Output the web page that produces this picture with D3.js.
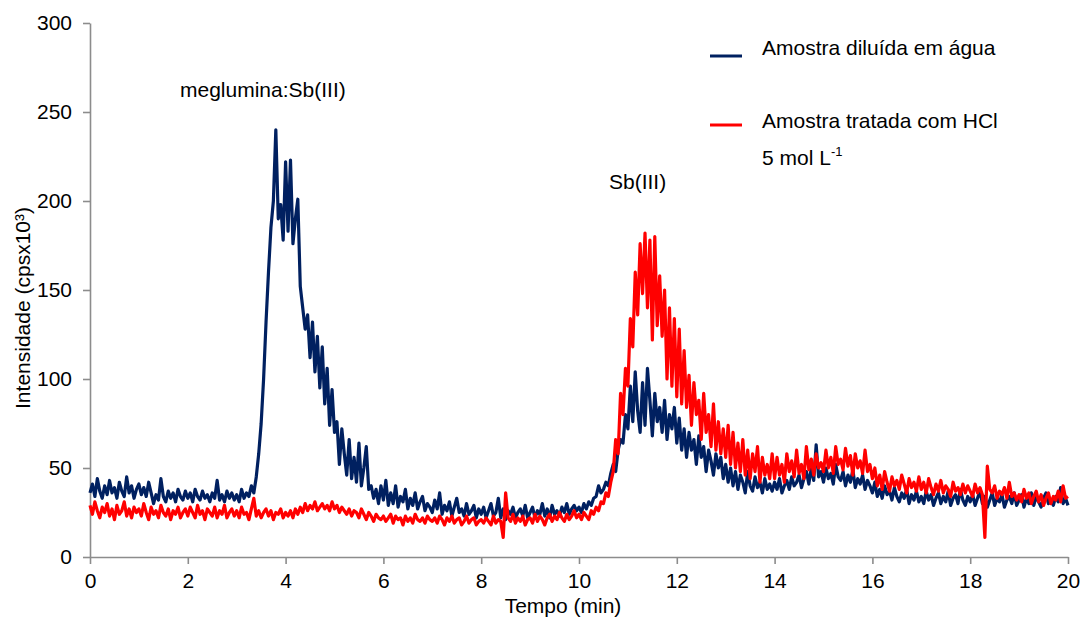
<!DOCTYPE html>
<html><head><meta charset="utf-8">
<script src="https://cdn.jsdelivr.net/npm/d3@7"></script>
<style>
body{margin:0;background:#fff}
text{font-family:"Liberation Sans",Arial,sans-serif;fill:#000}
</style>
</head><body>
<svg id="chart" width="1082" height="621"></svg>
<script>
const xTicks = [0,2,4,6,8,10,12,14,16,18,20];
const yTicks = [0,50,100,150,200,250,300];
const sampleStart = 0;     // min
const sampleStep = 0.05;   // min
const seriesNames = ["Amostra diluída em água","Amostra tratada com HCl"];

const aguaValues = [
36,41,34,44,37,33,40,35,43,36,39,33,42,37,34,45,36,40,33,38,
41,35,39,34,42,36,30,35,32,44,34,31,37,33,36,31,38,34,32,37,
33,36,31,38,34,32,37,33,35,31,36,33,43,32,35,31,37,33,36,32,
35,31,38,33,36,34,40,36,45,58,75,100,132,160,185,200,240,190,198,178,
222,183,223,176,190,201,152,140,128,136,112,132,104,124,95,118,86,106,74,94,
70,76,52,72,58,46,66,44,56,42,64,40,50,62,38,40,33,38,30,40,
32,43,29,36,30,40,28,34,31,38,27,33,29,36,27,31,34,26,30,28,
25,32,27,36,24,29,26,31,23,28,33,25,27,23,30,24,26,29,22,27,
24,28,22,26,30,23,25,33,22,27,21,26,24,28,22,25,27,23,29,22,
25,28,22,26,24,30,23,27,22,29,24,26,23,28,25,30,24,27,29,26,
28,25,30,27,31,29,33,34,40,36,38,42,40,47,52,48,60,66,64,80,
72,96,76,104,82,70,98,74,106,88,68,92,76,84,70,88,66,80,72,84,
64,78,60,72,56,70,60,66,52,68,56,62,48,60,54,46,58,50,56,44,
52,42,50,40,48,38,46,42,36,48,40,37,45,39,42,36,44,38,41,37,
42,38,44,36,40,43,38,45,40,42,46,39,44,48,41,50,43,63,45,48,
42,50,44,47,41,52,45,43,48,40,46,42,49,39,44,41,46,38,43,40,
36,42,34,38,33,40,35,37,32,39,34,31,36,33,38,30,35,32,37,31,
34,30,37,32,35,29,33,36,30,34,31,37,29,33,35,30,38,32,29,34,
31,35,29,33,37,30,34,28,32,36,29,33,31,35,28,32,34,30,36,29,
32,35,28,33,30,36,29,34,31,28,33,36,30,32,29,34,31,39,30,33,
29];

const hclValues = [
29,24,31,26,22,28,25,30,23,27,21,29,24,26,31,23,27,22,28,25,
27,23,30,25,21,28,24,26,22,29,25,23,27,21,26,24,28,22,25,27,
23,28,25,22,29,24,26,21,27,25,23,28,22,26,24,29,22,25,27,23,
26,22,28,24,25,21,27,33,23,26,22,25,27,23,26,21,25,24,27,22,
25,23,26,22,27,24,28,25,30,26,29,27,31,26,28,30,27,29,26,31,
27,29,25,28,26,24,27,23,26,25,22,27,24,21,25,23,20,24,22,21,
23,20,22,24,19,23,21,22,18,23,20,22,19,24,21,20,22,19,23,21,
20,22,19,23,21,18,22,20,23,19,21,22,18,20,23,19,21,22,18,20,
21,19,22,20,18,23,19,21,20,11,36,22,20,24,19,22,20,23,18,21,
22,19,24,20,23,21,18,22,24,20,23,21,25,22,20,24,21,23,26,22,
24,21,25,23,21,26,24,28,26,31,30,36,34,42,48,66,58,92,80,106,
96,134,118,160,136,176,148,182,140,178,122,180,130,158,124,150,100,140,96,134,
90,128,86,116,84,102,74,98,80,88,66,92,70,80,62,86,60,76,58,72,
56,74,52,70,50,64,48,66,46,60,44,58,48,62,42,56,46,52,44,58,
44,56,46,52,42,58,48,54,45,60,47,52,44,62,49,55,46,58,50,53,
48,60,50,56,47,62,52,55,49,61,51,57,46,58,50,54,47,60,48,52,
44,50,40,46,38,48,42,37,45,40,43,38,46,41,36,44,39,42,37,45,
38,42,36,44,39,35,41,37,43,36,40,38,34,42,37,39,35,41,36,40,
37,34,41,36,39,35,11,51,38,36,40,33,37,35,39,33,42,34,36,32,
35,31,38,33,36,30,34,37,31,35,29,33,36,30,34,32,37,31,40,33,
34];

const colors = ["#002060", "#ff0000"];
const FS = 21;

const svg = d3.select("#chart");
const x = d3.scaleLinear().domain([0,20]).range([90,1068]);
const y = d3.scaleLinear().domain([0,300]).range([557,23]);
const axisColor = "#8c8c8c";

const yAxis = svg.append("g").attr("transform","translate(90,0)")
  .call(d3.axisLeft(y).tickValues(yTicks).tickSize(7).tickSizeOuter(0).tickPadding(11).tickFormat(d3.format("d")));
const xAxis = svg.append("g").attr("transform","translate(0,557)")
  .call(d3.axisBottom(x).tickValues(xTicks).tickSize(7).tickSizeOuter(0).tickPadding(9).tickFormat(d3.format("d")));
[xAxis,yAxis].forEach(g=>{
  g.select(".domain").attr("stroke",axisColor).attr("stroke-width",1.6);
  g.selectAll(".tick line").attr("stroke",axisColor).attr("stroke-width",1.6);
  g.selectAll(".tick text").attr("font-size",FS).attr("font-family","Liberation Sans, Arial, sans-serif").attr("fill","#000");
});

const line = d3.line()
  .x((d,i)=>x(sampleStart + i*sampleStep))
  .y(d=>y(d));

[aguaValues, hclValues].forEach((vals,k)=>{
  svg.append("path").datum(vals)
    .attr("d", line)
    .attr("fill","none")
    .attr("stroke", colors[k])
    .attr("stroke-width", 3.2)
    .attr("stroke-linejoin","round");
});

// axis titles
svg.append("text").attr("x",563).attr("y",613).attr("text-anchor","middle")
  .attr("font-size",FS).text("Tempo (min)");
svg.append("text").attr("transform","translate(30,308) rotate(-90)").attr("text-anchor","middle")
  .attr("font-size",FS).text("Intensidade (cpsx10³)");

// annotations
svg.append("text").attr("x",180).attr("y",97).attr("font-size",FS).text("meglumina:Sb(III)");
svg.append("text").attr("x",609).attr("y",189).attr("font-size",FS).text("Sb(III)");

// legend
const legY = [56,125];
const legTextY = [55,128];
seriesNames.forEach((n,k)=>{
  svg.append("line").attr("x1",710).attr("x2",742).attr("y1",legY[k]).attr("y2",legY[k])
    .attr("stroke",colors[k]).attr("stroke-width",3);
  svg.append("text").attr("x",762).attr("y",legTextY[k]).attr("font-size",FS).text(n);
});
const t3 = svg.append("text").attr("x",762).attr("y",165).attr("font-size",FS);
t3.append("tspan").text("5 mol L");
t3.append("tspan").attr("dy",-9).attr("font-size",13).text("-1");
</script>
</body></html>
